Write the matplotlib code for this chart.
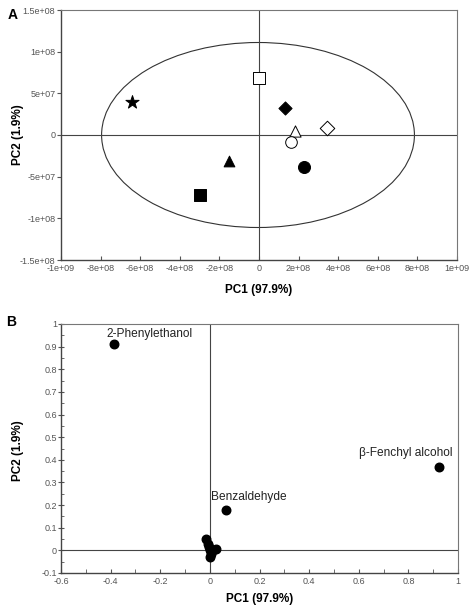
import numpy as np
import matplotlib
matplotlib.use('Agg')
import matplotlib.pyplot as plt
from matplotlib.patches import Ellipse
from matplotlib.ticker import FuncFormatter, MultipleLocator

plt.rcParams['font.family'] = ['Liberation Sans', 'DejaVu Sans']

# ---- panel A: scores ----
score_x = [-6.4e8, -3.0e8, -1.5e8, 0.02e8, 1.32e8, 1.83e8, 3.42e8, 1.62e8, 2.27e8]
score_y = [4.0e7, -7.2e7, -3.1e7, 6.8e7, 3.3e7, 0.5e7, 0.9e7, -0.8e7, -3.8e7]
score_marker = ['*', 's', '^', 's', 'D', '^', 'D', 'o', 'o']
score_filled = [True, True, True, False, True, False, False, False, True]
score_size = [100, 65, 60, 70, 45, 65, 55, 70, 75]

ell_center = (-0.05e8, 0.0)
ell_width = 1.58e9
ell_height = 2.22e8

# ---- panel B: loadings ----
load_x = [-0.385, 0.065, 0.925, -0.017, -0.009, -0.003, 0.0, 0.012, 0.026, 0.004, 0.0]
load_y = [0.910, 0.180, 0.370, 0.052, 0.030, 0.015, 0.0, 0.002, 0.006, -0.018, -0.030]
load_names = ['2-Phenylethanol', 'Benzaldehyde', '\u03b2-Fenchyl alcohol']
label_pos = [(-0.415, 0.955), (0.005, 0.237), (0.6, 0.43)]

tick_col = '#555555'


def sci_fmt(v, pos):
    if v == 0:
        return '0'
    s = '%.1e' % v
    mant, exp = s.split('e')
    mant = mant.rstrip('0').rstrip('.')
    return '%se%+03d' % (mant, int(exp))


fig = plt.figure(figsize=(4.69, 6.06), dpi=100)
ax1 = fig.add_axes([61 / 469, 1 - 260 / 606, 396 / 469, 250 / 606])
ax2 = fig.add_axes([61 / 469, 1 - 573 / 606, 397 / 469, 249 / 606])

# panel A
ax1.add_patch(Ellipse(ell_center, ell_width, ell_height, fill=False,
                      edgecolor='#333333', linewidth=0.8))
ax1.axhline(0, color='#444444', linewidth=0.8)
ax1.axvline(0, color='#444444', linewidth=0.8)
for x, y, m, f, s in zip(score_x, score_y, score_marker, score_filled, score_size):
    ax1.scatter(x, y, marker=m, s=s, facecolor='black' if f else 'white',
                edgecolor='black', linewidth=0.7, zorder=3)
ax1.set_xlim(-1e9, 1e9)
ax1.set_ylim(-1.5e8, 1.5e8)
ax1.xaxis.set_major_locator(MultipleLocator(2e8))
ax1.yaxis.set_major_locator(MultipleLocator(5e7))
ax1.xaxis.set_major_formatter(FuncFormatter(sci_fmt))
ax1.yaxis.set_major_formatter(FuncFormatter(sci_fmt))
ax1.tick_params(axis='x', direction='in', length=3, labelsize=6.5, colors=tick_col, pad=3)
ax1.tick_params(axis='y', direction='out', length=3, labelsize=6.5, colors=tick_col, pad=1)
ax1.set_xlabel('PC1 (97.9%)', fontsize=8.5, fontweight='bold', va='center')
ax1.set_ylabel('PC2 (1.9%)', fontsize=8.5, fontweight='bold', va='center')
ax1.xaxis.set_label_coords(0.5, -0.12)
ax1.yaxis.set_label_coords(-0.109, 0.5)
fig.text(8 / 469, 1 - 15 / 606, 'A', fontsize=10, fontweight='bold', va='center')

# panel B
ax2.axhline(0, color='#444444', linewidth=0.8)
ax2.axvline(0, color='#444444', linewidth=0.8)
ax2.scatter(load_x, load_y, s=38, color='black', zorder=3)
for name, (tx, ty) in zip(load_names, label_pos):
    ax2.text(tx, ty, name, fontsize=8.6, color='#222222', va='center')
ax2.set_xlim(-0.6, 1.0)
ax2.set_ylim(-0.1, 1.0)
ax2.xaxis.set_major_locator(MultipleLocator(0.2))
ax2.xaxis.set_minor_locator(MultipleLocator(0.1))
ax2.yaxis.set_major_locator(MultipleLocator(0.1))
ax2.yaxis.set_minor_locator(MultipleLocator(0.05))
ax2.xaxis.set_major_formatter(FuncFormatter(lambda v, p: '%g' % round(v, 2)))
ax2.yaxis.set_major_formatter(FuncFormatter(lambda v, p: '%g' % round(v, 2)))
ax2.tick_params(axis='x', which='both', direction='in', length=3, labelsize=6.5, colors=tick_col, pad=3)
ax2.tick_params(axis='y', which='major', direction='inout', length=4, labelsize=6.5, colors=tick_col, pad=1)
ax2.tick_params(axis='y', which='minor', direction='in', length=2, colors=tick_col)
ax2.set_xlabel('PC1 (97.9%)', fontsize=8.5, fontweight='bold', va='center')
ax2.set_ylabel('PC2 (1.9%)', fontsize=8.5, fontweight='bold', va='center')
ax2.xaxis.set_label_coords(0.5, -0.105)
ax2.yaxis.set_label_coords(-0.108, 0.49)
fig.text(6 / 469, 1 - 322 / 606, 'B', fontsize=10, fontweight='bold', va='center')

for ax in (ax1, ax2):
    for side in ('left', 'bottom'):
        ax.spines[side].set_color('#444444')
        ax.spines[side].set_linewidth(1.0)
    for side in ('top', 'right'):
        ax.spines[side].set_color('#777777')
        ax.spines[side].set_linewidth(0.8)

plt.savefig('out.png', dpi=100)
